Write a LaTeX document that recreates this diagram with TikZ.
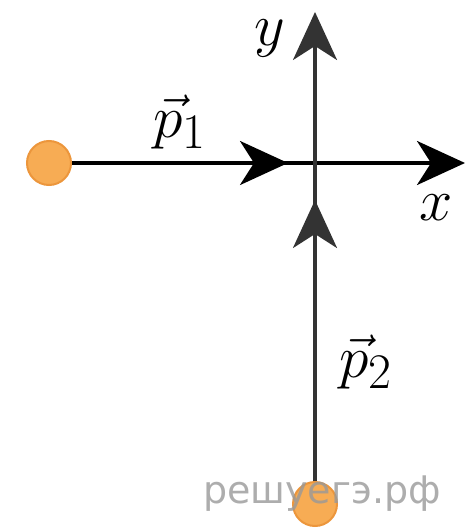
\documentclass[tikz,border=0pt]{standalone}
\usepackage{fontspec}
\newfontfamily\wmfont{DejaVu Sans}
\usetikzlibrary{arrows.meta}
\definecolor{ballfill}{RGB}{247,172,84}
\definecolor{balledge}{RGB}{236,150,60}
\newcommand{\biglbl}[1]{\scalebox{1.2}{$#1$}}
\tikzset{
    ball/.style={circle, fill=ballfill, draw=balledge, line width=1pt, minimum size=22pt, inner sep=0pt},
    vec/.style={line width=1.8pt, -{Stealth[length=24pt, width=22pt, inset=7pt]}},
    lbl/.style={font=\fontsize{24.88}{30}\selectfont}
}
\begin{document}
\begin{tikzpicture}[x=0.5pt, y=-0.5pt]
    \useasboundingbox (0,0) rectangle (466,529);

    % Axis ends and tips of the momenta
    \coordinate (O) at (315,163);
    \coordinate (xend) at (465,163);
    \coordinate (yend) at (315,12);
    \coordinate (tip1) at (288,163);
    \coordinate (tip2) at (315,200);

    % Balls
    \node[ball] (ball1) at (49,163) {};
    \node[ball] (ball2) at (315,504) {};

    % x axis with momentum p1
    \draw[vec] (ball1) -- (xend);
    \draw[vec] (ball1) -- (tip1);
    % y axis with momentum p2
    \draw[vec, black!80] (ball2) -- (yend);
    \draw[vec, black!80] (ball2) -- (tip2);

    % Labels
    \node[lbl] (ylab) at (270,38) {\biglbl{y}};
    \node[lbl] (xlab) at (436,208) {\biglbl{x}};
    \node[lbl] (p1lab) at (180,122) {\biglbl{\vec{p}_1}};
    \node[lbl] (p2lab) at (366,362) {\biglbl{\vec{p}_2}};

    % Watermark
    \node[text=black!40, opacity=0.8, font=\wmfont\fontsize{19}{22}\selectfont] (wm) at (322,494) {решуегэ.рф};
\end{tikzpicture}
\end{document}
